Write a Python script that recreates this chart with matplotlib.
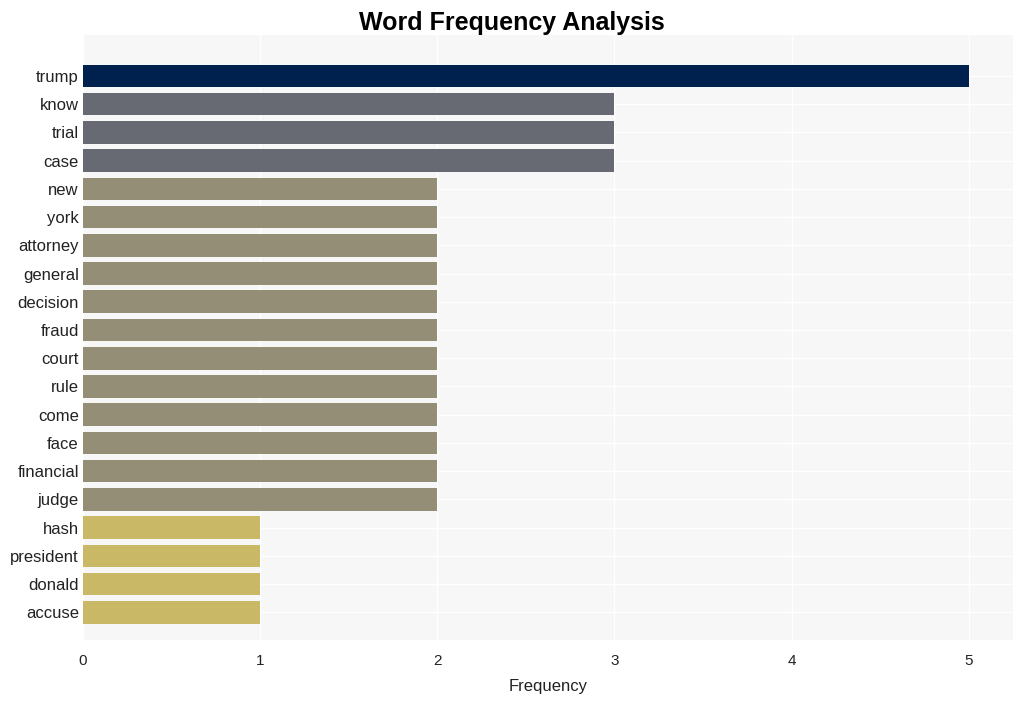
import numpy as np
import matplotlib.pyplot as plt

words = ['trump', 'know', 'trial', 'case', 'new', 'york', 'attorney', 'general',
         'decision', 'fraud', 'court', 'rule', 'come', 'face', 'financial', 'judge',
         'hash', 'president', 'donald', 'accuse']
counts = [5, 3, 3, 3, 2, 2, 2, 2, 2, 2, 2, 2, 2, 2, 2, 2, 1, 1, 1, 1]
palette = {5: '#00214d', 3: '#676a72', 2: '#958e77', 1: '#c9b866'}

plt.rcParams['font.family'] = ['Liberation Sans', 'DejaVu Sans']

fig = plt.figure(figsize=(10.23, 7.01), dpi=100)
ax = fig.add_axes([83 / 1023, 1 - 640 / 701, 930 / 1023, 605 / 701])
ax.set_facecolor('#f7f7f7')

ypos = np.arange(len(words))[::-1]
ax.barh(ypos, counts, height=0.8, color=[palette[c] for c in counts], zorder=3)

ax.set_yticks(ypos)
ax.set_yticklabels(words, fontsize=12, color='#222222')
ax.set_xticks(range(0, 6))
ax.tick_params(axis='x', labelsize=11, colors='#222222', length=0, pad=10)
ax.tick_params(axis='y', length=0, pad=3)
ax.set_xlim(0, 5.25)
ax.set_ylim(-0.98, 20.45)
ax.grid(True, color='white', linewidth=1, zorder=0)
for s in ax.spines.values():
    s.set_visible(False)

ax.set_xlabel('Frequency', fontsize=12, color='#222222', labelpad=8)
fig.suptitle('Word Frequency Analysis', fontsize=18, fontweight='bold', y=0.985)

fig.savefig('out.png', dpi=100)
